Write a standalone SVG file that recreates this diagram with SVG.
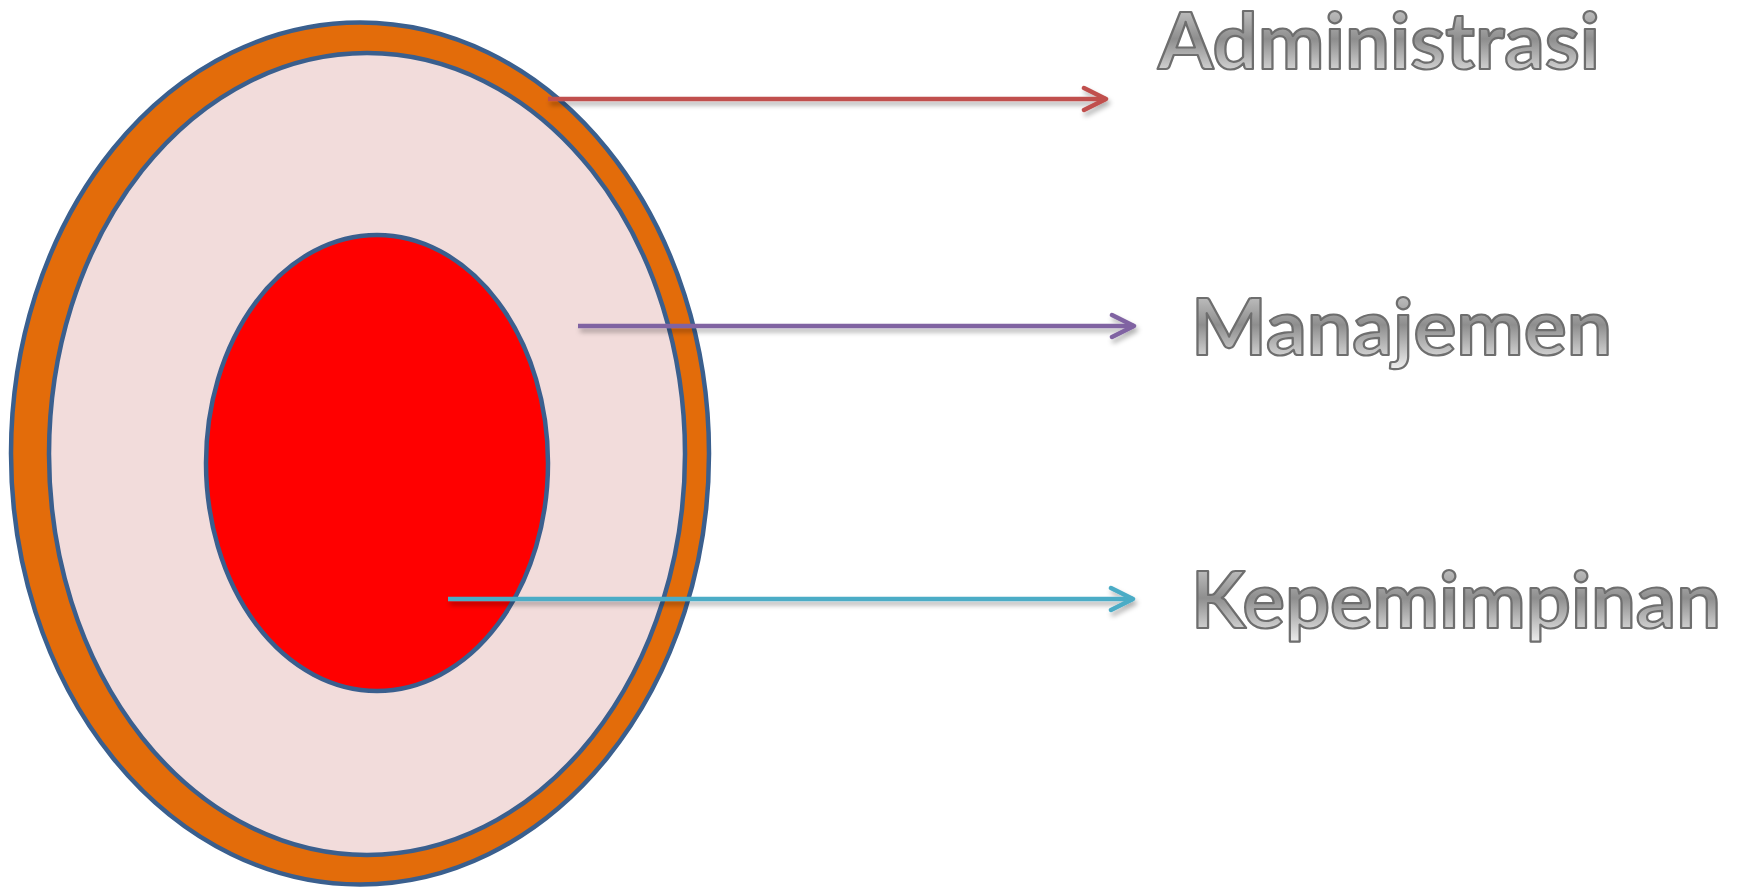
<svg xmlns="http://www.w3.org/2000/svg" width="1742" height="887" viewBox="0 0 1742 887">
<defs>
<style>
.ring{stroke:#3A5F8E;stroke-width:4.5}
.lbl{font-family:Lato,"Open Sans","Liberation Sans",sans-serif;font-weight:700;font-size:78px;fill:url(#tg);stroke:#6e6e6e;stroke-width:2.2;stroke-linejoin:round}
.conn{fill:none;stroke-width:4.5;stroke-linecap:butt;filter:url(#sh)}
</style>
<linearGradient id="tg" x1="0" y1="0" x2="0" y2="1">
<stop offset="0" stop-color="#dcdcdc"/>
<stop offset="0.5" stop-color="#8e8e8e"/>
<stop offset="1" stop-color="#f4f4f4"/>
</linearGradient>
<filter id="sh" filterUnits="userSpaceOnUse" x="0" y="0" width="1742" height="887">
<feDropShadow dx="2" dy="4" stdDeviation="2.5" flood-color="#000" flood-opacity="0.3"/>
</filter>
<marker id="mr" markerUnits="userSpaceOnUse" viewBox="-26 -14 30 28" refX="0" refY="0" markerWidth="30" markerHeight="28" orient="auto">
<path d="M-22,-11 L0,0 L-22,11" fill="none" stroke="#C0504D" stroke-width="4.5" stroke-linecap="round" stroke-linejoin="round"/>
</marker>
<marker id="mp" markerUnits="userSpaceOnUse" viewBox="-26 -14 30 28" refX="0" refY="0" markerWidth="30" markerHeight="28" orient="auto">
<path d="M-22,-11 L0,0 L-22,11" fill="none" stroke="#8064A2" stroke-width="4.5" stroke-linecap="round" stroke-linejoin="round"/>
</marker>
<marker id="mc" markerUnits="userSpaceOnUse" viewBox="-26 -14 30 28" refX="0" refY="0" markerWidth="30" markerHeight="28" orient="auto">
<path d="M-22,-11 L0,0 L-22,11" fill="none" stroke="#4BACC6" stroke-width="4.5" stroke-linecap="round" stroke-linejoin="round"/>
</marker>
</defs>
<rect width="1742" height="887" fill="#ffffff"/>
<g id="outer"><ellipse class="ring" cx="360" cy="453.5" rx="349" ry="431" fill="#E36C0A"/></g>
<g id="middle"><ellipse class="ring" cx="367" cy="454" rx="318" ry="401" fill="#F2DCDB"/></g>
<g id="inner"><ellipse class="ring" cx="377" cy="463" rx="171" ry="228" fill="#FF0000"/></g>
<g id="connectors">
<path class="conn" d="M548,99 H1106" stroke="#C0504D" marker-end="url(#mr)"/>
<path class="conn" d="M578,326 H1134" stroke="#8064A2" marker-end="url(#mp)"/>
<path class="conn" d="M448,599 H1133" stroke="#4BACC6" marker-end="url(#mc)"/>
</g>
<g id="label-administrasi"><text class="lbl" x="1158" y="69" textLength="442" lengthAdjust="spacingAndGlyphs">Administrasi</text></g>
<g id="label-manajemen"><text class="lbl" x="1191" y="355" textLength="421" lengthAdjust="spacingAndGlyphs">Manajemen</text></g>
<g id="label-kepemimpinan"><text class="lbl" x="1191" y="628" textLength="530" lengthAdjust="spacingAndGlyphs">Kepemimpinan</text></g>
</svg>
